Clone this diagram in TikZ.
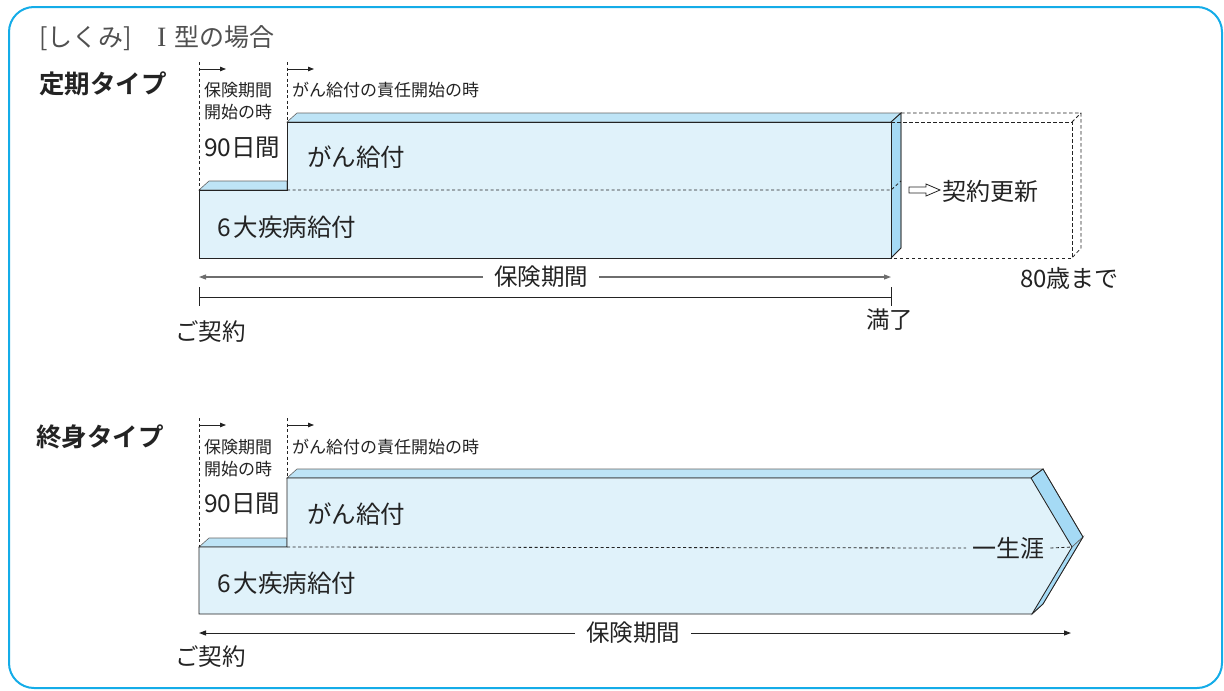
\documentclass[tikz,border=0pt]{standalone}
\usepackage{fontspec}
\setmainfont{Noto Sans CJK JP}[BoldFont={Noto Sans CJK JP Bold}]
\newfontfamily\serifI{Liberation Serif}
\usetikzlibrary{arrows.meta}
\definecolor{framecol}{RGB}{20,172,232}
\definecolor{frontcol}{RGB}{224,242,250}
\definecolor{topcol}{RGB}{190,228,246}
\definecolor{sidecol}{RGB}{165,218,245}
\definecolor{ink}{RGB}{35,35,35}
\definecolor{titlegray}{RGB}{80,80,80}
\definecolor{linegray}{RGB}{110,110,110}
\tikzset{
  lbl/.style={inner sep=0pt, anchor=west, text=ink},
  edge/.style={draw=ink, line width=0.8pt, line join=miter},
  backedge/.style={draw=ink!70, line width=0.6pt},
  dsh/.style={draw=ink, line width=0.8pt, dash pattern=on 3pt off 2.5pt},
  ghost/.style={draw=ink, line width=0.75pt, dash pattern=on 3.5pt off 2.5pt},
  tip/.style={-{Triangle[length=7pt,width=5pt]}},
  smalltip/.style={-{Triangle[length=6pt,width=4.5pt]}, line width=0.8pt, draw=ink},
}
\begin{document}
\begin{tikzpicture}[x=1pt,y=-1pt]
\useasboundingbox (0,0) rectangle (1224,691);
\draw[rounded corners=25pt, line width=2pt, draw=framecol] (9,7) rectangle (1222,688);

% title
\node[lbl, text=titlegray, font=\fontsize{25}{26}\selectfont] (title) at (39,38) {[しくみ]\hspace{25pt}{\serifI\fontsize{28}{28}\selectfont I}\hspace{8pt}型の場合};

% ================= upper diagram =================
\node[lbl, font=\fontsize{25.5}{27}\selectfont\bfseries] (teiki) at (39,84) {定期タイプ};

% blocks
\filldraw[fill=topcol, backedge] (199,190) -- (209,181) -- (287,181) -- (287,190) -- cycle;
\filldraw[fill=topcol, backedge] (287,122) -- (297,113) -- (901,113) -- (891,122) -- cycle;
\filldraw[fill=sidecol, backedge] (891,122) -- (901,113) -- (901,248) -- (891,258) -- cycle;
\filldraw[fill=frontcol, edge] (199,190) -- (287,190) -- (287,122) -- (891,122) -- (891,258) -- (199,258) -- cycle;
\draw[edge] (891,122) -- (901,113) -- (901,248) -- (891,258);
\draw[dsh] (287,190) -- (891,190) -- (901,181);

% ghost (renewal) box
\draw[ghost] (891,122) -- (1072,122) -- (1072,258) -- (891,258);
\draw[ghost] (901,113) -- (1081,113) -- (1081,248) -- (1072,258);
\draw[ghost] (1072,122) -- (1081,113);

% dashed verticals and start arrows
\coordinate (s1) at (199,62);
\coordinate (s2) at (287,62);
\draw[dsh] (s1) -- (199,190);
\draw[dsh] (s2) -- (287,122);
\coordinate (a1s) at (199,69); \coordinate (a1e) at (226,69);
\coordinate (a2s) at (287,69); \coordinate (a2e) at (314,69);
\draw[smalltip] (a1s) -- (a1e);
\draw[smalltip] (a2s) -- (a2e);

\node[lbl, align=left, font=\fontsize{17}{22}\selectfont] (hk1) at (204,101) {保険期間\\開始の時};
\node[lbl, font=\fontsize{17}{18}\selectfont] (gs1) at (292,90) {がん給付の責任開始の時};
\node[lbl, font=\fontsize{24.5}{26}\selectfont] (d90a) at (204,148) {90日間};
\node[lbl, font=\fontsize{24.5}{26}\selectfont] (gan1) at (307,157) {がん給付};
\node[lbl, font=\fontsize{24.5}{26}\selectfont] (six1) at (217,227) {6\hspace{3pt}大疾病給付};

% renewal arrow + text
\filldraw[fill=white, draw=ink, line width=0.8pt] (909,187) -- (926,187) -- (926,184) -- (940,190) -- (926,196) -- (926,193) -- (909,193) -- cycle;
\node[lbl, font=\fontsize{24}{26}\selectfont] (kosin) at (942,191) {契約更新};
\node[lbl, font=\fontsize{24}{26}\selectfont] (age80) at (1020,278) {80歳まで};

% insurance period arrows
\node[lbl, font=\fontsize{23.5}{25}\selectfont] (per1) at (494,277) {保険期間};
\coordinate (p1l) at (199,277);
\coordinate (p1r) at (891,277);
\draw[tip, draw=linegray, line width=1.1pt] ([xshift=-11pt]per1.west) -- (p1l);
\draw[tip, draw=linegray, line width=1.1pt] ([xshift=11pt]per1.east) -- (p1r);

% timeline
\coordinate (t0) at (199,297);
\coordinate (t1) at (891,297);
\draw[draw=ink, line width=0.9pt] (t0) -- (t1);
\draw[draw=ink, line width=0.9pt] (199,287) -- (199,306);
\draw[draw=ink, line width=0.9pt] (891,287) -- (891,306);
\node[lbl, font=\fontsize{23.5}{25}\selectfont] (keiyaku1) at (175,332) {ご契約};
\node[lbl, font=\fontsize{23.5}{25}\selectfont] (manryo) at (866,320) {満了};

% ================= lower diagram =================
\node[lbl, font=\fontsize{25.5}{27}\selectfont\bfseries] (shushin) at (36,437) {終身タイプ};

\filldraw[fill=topcol, backedge] (199,547) -- (209,538) -- (287,538) -- (287,547) -- cycle;
\filldraw[fill=topcol, backedge] (287,478) -- (297,469) -- (1043,469) -- (1031,478) -- cycle;
\filldraw[fill=sidecol, backedge] (1031,478) -- (1043,469) -- (1083,537) -- (1072,547) -- cycle;
\filldraw[fill=sidecol, backedge] (1072,547) -- (1083,537) -- (1043,604) -- (1032,614) -- cycle;
\filldraw[fill=frontcol, edge] (199,547) -- (287,547) -- (287,478) -- (1031,478) -- (1072,547) -- (1032,614) -- (199,614) -- cycle;
\draw[edge] (1031,478) -- (1043,469) -- (1083,537) -- (1043,604) -- (1032,614);

\node[lbl, font=\fontsize{24}{26}\selectfont] (issho) at (972,548) {一生涯};
\draw[dsh] (287,547) -- ([xshift=-6pt]issho.west);
\draw[dsh] ([xshift=6pt]issho.east) -- (1072,547);

\coordinate (s3) at (199,418);
\coordinate (s4) at (287,418);
\draw[dsh] (s3) -- (199,547);
\draw[dsh] (s4) -- (287,478);
\coordinate (a3s) at (199,425); \coordinate (a3e) at (226,425);
\coordinate (a4s) at (287,425); \coordinate (a4e) at (314,425);
\draw[smalltip] (a3s) -- (a3e);
\draw[smalltip] (a4s) -- (a4e);

\node[lbl, align=left, font=\fontsize{17}{22}\selectfont] (hk2) at (204,458) {保険期間\\開始の時};
\node[lbl, font=\fontsize{17}{18}\selectfont] (gs2) at (292,447) {がん給付の責任開始の時};
\node[lbl, font=\fontsize{24.5}{26}\selectfont] (d90b) at (204,504) {90日間};
\node[lbl, font=\fontsize{24.5}{26}\selectfont] (gan2) at (307,514) {がん給付};
\node[lbl, font=\fontsize{24.5}{26}\selectfont] (six2) at (217,583) {6\hspace{3pt}大疾病給付};

\node[lbl, font=\fontsize{23.5}{25}\selectfont] (per2) at (586,633) {保険期間};
\coordinate (p2l) at (199,633);
\coordinate (p2r) at (1071,633);
\draw[tip, draw=ink, line width=1pt] ([xshift=-11pt]per2.west) -- (p2l);
\draw[tip, draw=ink, line width=1pt] ([xshift=11pt]per2.east) -- (p2r);
\node[lbl, font=\fontsize{23.5}{25}\selectfont] (keiyaku2) at (175,657) {ご契約};
\end{tikzpicture}
\end{document}
